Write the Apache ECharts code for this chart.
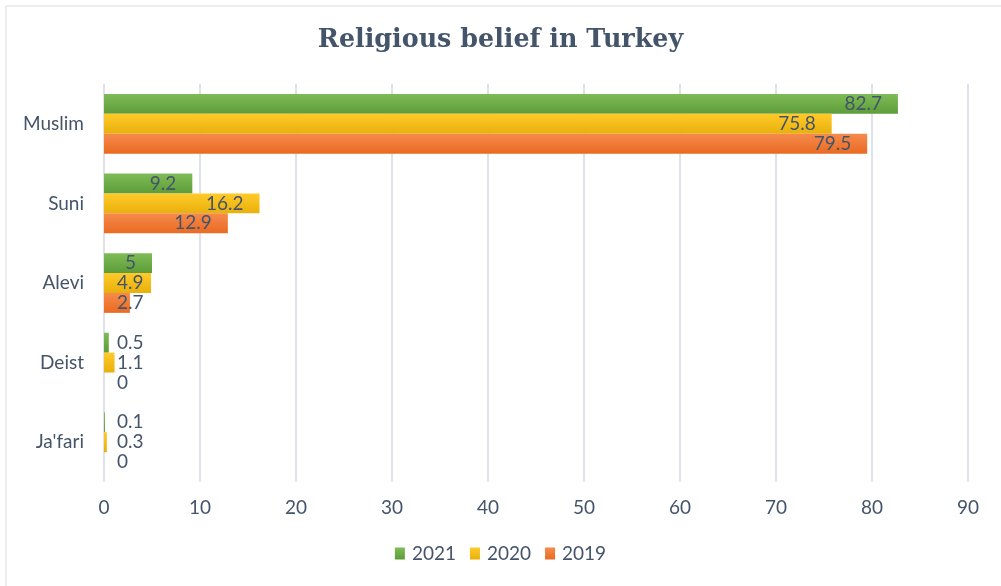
<!DOCTYPE html>
<html><head><meta charset="utf-8">
<script src="https://cdn.jsdelivr.net/npm/echarts@6/dist/echarts.min.js"></script>
<style>html,body{margin:0;padding:0;background:#fff}#c{width:1001px;height:586px}</style>
</head><body><div id="c"></div>
<script>
const title = 'Religious belief in Turkey';
const categories = ['Muslim', 'Suni', 'Alevi', 'Deist', "Ja'fari"];
const seriesNames = ['2021', '2020', '2019'];
const values2021 = [82.7, 9.2, 5, 0.5, 0.1];
const values2020 = [75.8, 16.2, 4.9, 1.1, 0.3];
const values2019 = [79.5, 12.9, 2.7, 0, 0];
const xMin = 0, xMax = 90, xStep = 10;

const TEXT = '#44546A';
const FONT = 'Lato';
const LBL = 19;
const grads = [
  ['#7fbc57', '#5d9c39'],
  ['#ffca2a', '#e8b00b'],
  ['#f58b4c', '#ea6a22']
];
const allValues = [values2021, values2020, values2019];

const chart = echarts.init(document.getElementById('c'), null, {renderer: 'canvas'});

function grad(i) {
  return new echarts.graphic.LinearGradient(0, 0, 0, 1, [
    {offset: 0, color: grads[i][0]}, {offset: 1, color: grads[i][1]}
  ]);
}

function buildOption(pxPerUnit) {
  const ctx = document.createElement('canvas').getContext('2d');
  ctx.font = LBL + 'px ' + FONT;
  return {
    backgroundColor: '#fff',
    animation: false,
    title: {
      text: title, left: 'center', top: 23,
      textStyle: {fontFamily: 'DejaVu Serif', fontWeight: 'bold', fontSize: 25.4, color: TEXT}
    },
    legend: {
      bottom: 18, left: 'center', itemWidth: 10, itemHeight: 12, itemGap: 14,
      icon: 'rect',
      textStyle: {fontFamily: FONT, fontSize: LBL, color: TEXT, padding: [0, 0, 0, 2]},
      data: seriesNames
    },
    grid: {left: 104, right: 33, top: 84, bottom: 104, containLabel: false},
    xAxis: {
      type: 'value', min: xMin, max: xMax, interval: xStep,
      axisLine: {show: false}, axisTick: {show: false},
      axisLabel: {fontFamily: FONT, fontSize: LBL, color: TEXT, margin: 16},
      splitLine: {show: true, lineStyle: {color: '#dfe3e9', width: 2}}
    },
    yAxis: {
      type: 'category', data: categories, inverse: true,
      axisLine: {show: false}, axisTick: {show: false},
      axisLabel: {fontFamily: FONT, fontSize: LBL, color: TEXT, margin: 20}
    },
    graphic: [
      {type: 'line', shape: {x1: 6, y1: 6, x2: 1001, y2: 6}, style: {stroke: '#e3e7ee', lineWidth: 1.5}},
      {type: 'line', shape: {x1: 6, y1: 6, x2: 6, y2: 586}, style: {stroke: '#e3e7ee', lineWidth: 1.5}}
    ],
    series: seriesNames.map((name, si) => ({
      name, type: 'bar', barGap: '0%', barCategoryGap: '25%',
      itemStyle: {color: grad(si)},
      data: allValues[si].map(v => {
        const txt = String(v);
        const w = ctx.measureText(txt).width;
        const small = v * pxPerUnit < 29 + w;
        return {
          value: v,
          label: {
            show: true,
            position: small ? 'insideLeft' : 'insideRight',
            distance: small ? 13 : 16,
            formatter: txt,
            fontFamily: FONT, fontSize: LBL, color: TEXT
          }
        };
      })
    }))
  };
}

chart.setOption(buildOption(9.6));
const p0 = chart.convertToPixel({xAxisIndex: 0}, 0);
const p1 = chart.convertToPixel({xAxisIndex: 0}, 1);
chart.setOption(buildOption(p1 - p0), true);
</script></body></html>
